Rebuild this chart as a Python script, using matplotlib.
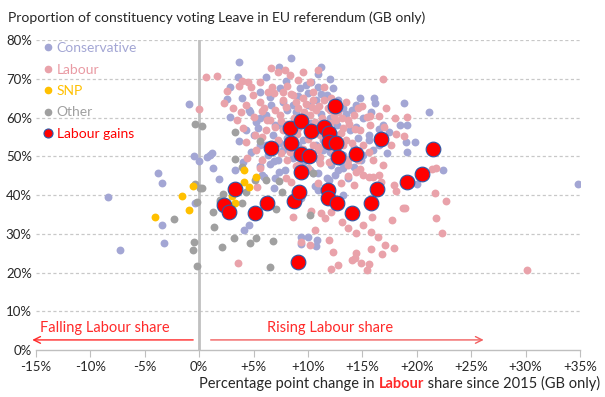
import matplotlib
matplotlib.use("Agg")
import matplotlib.pyplot as plt
from matplotlib.offsetbox import TextArea, HPacker, AnchoredOffsetbox
from matplotlib.lines import Line2D

# ---- data (x: pp change in Labour share, y: Leave %) ----
con_x = [1.0, 1.2, 0.0, 1.3, -3.8, -3.4, 1.8, -8.4, -3.4, -3.2, -7.3, -0.4,
         3.3, 4.0, 5.6, 6.0, 6.9, 7.3, 6.9, 4.6, 4.1, -0.5,
         9.4, 10.5, 10.9, 12.1, 12.5, 11.7, 10.6, 9.4, 10.0, 10.8, 10.7, 9.4,
         22.4, 20.0, 34.8, 18.8, 21.1, 19.1, 19.0, 19.8, 19.1,
         11.2, 10.9, 10.3, 9.3, 11.2, 14.4, 14.0, 16.1, 16.2, 16.5, 14.4, 15.6, 18.5, 17.3, 16.0, 14.2, 10.9, 10.0,
         3.7, 8.4, 7.3, 6.1, 3.6, 2.8, 2.6, 2.8, 3.9, 5.6, 6.5, 7.4, 7.7, 4.7, 6.1, 4.3, 5.0, 3.7, 5.6, 0.7, 7.0, 5.2, 6.6, 8.6,
         -0.9,
         8.9, 10.0, 10.7, 11.7, 12.3, 12.8, 13.2, 12.0, 10.9, 10.0, 9.5, 8.9, 8.1, 7.4, 6.8, 6.1, 7.7, 8.6, 10.7, 11.4,
         12.3, 13.2, 14.2, 15.1, 14.6, 13.9, 15.6, 16.5, 16.9, 15.1, 12.6, 11.4, 10.5, 9.5, 8.6, 7.2, 6.3, 5.4, 4.6, 5.6,
         8.1, 9.1, 12.8, 13.7, 11.9, 10.9, 13.2, 10.2, 7.9, 7.0, 5.8, 17.4, 9.1, 14.2, 14.9, 13.2,
         9.6, 10.3, 11.2, 12.7, 13.5, 11.0, 8.5, 9.0, 12.0, 13.0, 11.0, 7.4, 6.5, 4.8, 15.8, 14.8, 12.0, 9.8, 8.0]
con_y = [50.3, 50.8, 48.8, 47.0, 45.7, 43.1, 44.1, 39.5, 32.3, 27.6, 25.8, 37.9,
         46.5, 48.5, 47.5, 44.6, 41.8, 45.9, 48.8, 32.3, 31.0, 50.1,
         39.2, 45.7, 45.7, 47.7, 45.2, 44.4, 42.3, 29.2, 29.2, 28.4, 26.8, 27.4,
         46.5, 42.8, 42.8, 63.7, 61.4, 58.1, 53.7, 53.7, 51.1,
         73.0, 71.2, 69.2, 67.6, 66.1, 63.2, 61.9, 65.0, 63.7, 57.0, 57.5, 55.5, 58.1, 50.8, 51.6, 52.1, 67.9, 66.3,
         74.3, 75.4, 73.0, 70.5, 70.5, 67.9, 64.8, 60.1, 65.0, 66.6, 65.3, 67.6, 64.0, 61.4, 60.6, 56.8, 55.5, 53.9, 52.9, 49.8, 58.1, 58.8, 63.2, 63.2,
         63.5,
         61.4, 63.2, 64.5, 65.8, 67.6, 64.5, 62.5, 59.9, 58.1, 56.3, 54.2, 56.3, 61.9, 58.1, 55.5, 52.9, 51.6, 51.6, 52.9, 51.6,
         49.0, 50.3, 51.6, 50.3, 54.7, 56.8, 54.2, 52.9, 58.1, 59.9, 55.5, 54.2, 49.5, 48.5, 49.5, 49.0, 50.3, 57.3, 61.9, 59.9,
         54.7, 52.9, 46.5, 44.4, 43.9, 41.3, 40.0, 46.5, 46.5, 44.4, 45.2, 56.3, 65.5, 47.2, 49.0, 47.0,
         60.0, 58.5, 61.0, 58.0, 60.8, 57.0, 57.8, 50.5, 51.0, 48.5, 49.0, 53.5, 48.0, 51.0, 61.5, 65.0, 70.0, 68.5, 69.5]

lab_x = [5.6, 5.3, 8.0, 8.4, 8.9, 8.6, 3.6,
         11.1, 11.1, 11.9, 13.7, 14.4, 14.8, 13.7, 15.6, 16.0, 16.7, 14.2, 13.0, 10.9, 18.1, 19.0, 18.7, 17.7, 15.9,
         15.1, 14.4, 13.1, 12.1, 11.6, 11.2, 10.3, 10.6, 11.9, 10.2, 12.3, 13.7, 14.4, 15.8, 16.4, 17.1, 17.9, 15.8,
         16.8, 14.4, 14.3, 14.9, 15.6, 15.4, 12.8, 12.1, 9.4, 14.0,
         21.4, 21.8, 21.7, 22.7, 18.9, 21.8, 22.3, 30.1, 19.1, 18.8,
         9.5, 10.9, 10.2, 12.1, 16.9, 15.4, 15.7, 18.1, 12.6, 13.1, 15.6,
         0.6, 1.6, 0.0, 2.6, 2.3, 3.7, 3.9, 4.5, 4.8, 5.6, 5.8, 6.6, 7.2, 7.9, 8.3, 8.1, 6.7, 6.9, 8.4, 6.2, 5.0, 3.8,
         5.1, 4.3, 5.8, 7.5, 9.3, 8.9,
         9.1, 9.6, 10.2, 10.7, 11.3, 8.7, 8.1, 7.7, 9.1, 9.8, 10.6, 11.1, 8.7, 8.0, 7.2, 10.5, 13.2, 13.7, 14.2, 13.5,
         14.8, 15.1, 12.8, 12.0, 11.5, 10.5, 9.5, 8.6, 7.7, 7.0, 6.5, 7.4, 6.1, 8.1, 9.1, 10.0, 10.9, 12.3, 13.7, 14.6,
         16.0, 16.9, 16.5, 15.1, 13.2, 9.1, 7.7, 6.3, 5.6, 4.9, 4.3, 3.5, 3.1, 4.0, 5.2, 4.4, 5.8, 6.8, 14.6, 15.7,
         17.2, 17.6, 17.9,
         9.8, 10.4, 11.0, 11.8, 12.4, 13.8, 14.3, 8.0, 7.5, 9.0, 10.0, 11.8, 12.0, 13.0, 14.0, 11.0, 9.5, 8.3,
         7.0, 6.0, 10.5, 11.5, 13.5, 15.0, 16.5, 17.0, 18.0]
lab_y = [47.0, 42.1, 44.4, 43.4, 47.5, 34.3, 22.5,
         49.8, 48.3, 48.5, 49.0, 45.9, 46.7, 44.9, 44.6, 44.6, 43.4, 42.6, 43.1, 43.1, 41.0, 43.6, 36.6, 33.5, 34.3,
         32.3, 35.6, 33.0, 35.6, 34.1, 35.4, 35.9, 31.0, 28.4, 27.1, 25.3, 31.5, 30.2, 30.5, 29.2, 27.1, 26.3, 26.1,
         24.8, 25.0, 23.7, 22.5, 22.2, 20.6, 21.9, 20.9, 27.9, 23.2,
         46.7, 47.0, 40.5, 38.5, 36.6, 34.1, 30.2, 20.6, 60.1, 55.2,
         71.7, 72.3, 69.2, 65.0, 69.9, 60.1, 60.4, 55.7, 59.4, 59.9, 51.1,
         70.5, 70.7, 62.2, 66.8, 63.7, 68.1, 69.4, 69.2, 67.9, 64.0, 61.7, 72.8, 71.7, 72.3, 71.0, 68.1, 67.9, 66.3, 66.1, 59.4, 60.1, 61.4,
         55.5, 53.7, 55.0, 50.8, 59.9, 64.0,
         62.5, 61.4, 60.6, 61.9, 59.9, 59.9, 58.3, 56.8, 57.3, 58.1, 58.8, 55.5, 54.2, 52.9, 54.2, 52.9, 57.3, 59.4, 60.6, 54.2,
         56.8, 52.9, 61.4, 61.9, 64.5, 64.5, 65.0, 65.8, 64.5, 61.9, 59.4, 60.6, 56.8, 49.0, 47.7, 47.0, 51.6, 51.6, 47.7, 49.0,
         49.0, 47.7, 45.2, 45.2, 52.9, 69.7, 66.6, 66.6, 69.2, 65.8, 63.2, 59.4, 62.5, 57.3, 51.6, 49.5, 49.0, 51.6, 62.5, 58.1,
         62.5, 52.9, 42.6,
         63.5, 62.8, 63.0, 62.5, 60.5, 58.2, 57.0, 62.8, 59.0, 55.8, 54.5, 55.0, 58.5, 56.0, 53.5, 52.5, 52.0, 51.0,
         57.5, 62.5, 66.5, 68.0, 64.0, 63.0, 60.5, 57.5, 60.0]

snp_x = [-0.6, -1.6, -0.9, -4.1, 4.1, 4.1, 4.6, 5.2, 3.0, 3.3]
snp_y = [42.3, 39.7, 36.1, 34.3, 46.5, 43.4, 42.1, 44.6, 39.7, 37.9]

oth_x = [-0.4, 0.1, 0.3, -0.2, 2.2, 1.9, 1.3, -2.3, 1.4, -0.5, -0.6, -0.2, 2.1, 3.3, 3.9, 4.3, 5.1, 6.1,
         7.3, 7.6, 1.9, 3.9, 7.1, 3.2, 4.7, 5.2, 6.8, 6.5, -0.4, 0.3, 3.3, 5.6, 10.5, 10.2]
oth_y = [42.8, 41.8, 41.8, 38.2, 40.3, 38.2, 35.6, 33.8, 31.7, 27.9, 25.8, 21.7, 26.6, 49.3, 47.2, 40.8, 43.9, 43.9,
         43.6, 40.8, 38.7, 37.9, 36.4, 28.9, 27.6, 28.9, 28.1, 21.4, 58.3, 57.8, 56.3, 53.9, 45.7, 34.8]

gain_x = [6.6, 8.4, 8.3, 9.4, 10.3, 11.5, 11.9, 11.9, 12.5, 12.6, 9.4, 10.1, 12.8, 14.4, 16.7, 21.5,
          9.4, 3.3, 2.3, 2.7, 5.1, 6.2, 8.7, 9.2, 9.1, 11.8, 11.8, 12.7, 14.0, 15.8, 16.3, 19.1, 20.5]
gain_y = [52.1, 53.4, 57.3, 59.1, 56.5, 57.5, 56.0, 53.7, 63.0, 53.4, 50.6, 50.1, 49.8, 50.6, 54.5, 51.9,
          45.9, 41.5, 37.4, 35.6, 35.4, 37.9, 38.5, 40.8, 22.7, 41.3, 39.2, 37.9, 35.4, 37.9, 41.5, 43.4, 45.4]

x_ticks = [-15, -10, -5, 0, 5, 10, 15, 20, 25, 30, 35]
x_labels = ["-15%", "-10%", "-5%", "0%", "+5%", "+10%", "+15%", "+20%", "+25%", "+30%", "+35%"]
y_ticks = [0, 10, 20, 30, 40, 50, 60, 70, 80]
y_labels = ["0%", "10%", "20%", "30%", "40%", "50%", "60%", "70%", "80%"]

C_CON = "#a3a6d4"
C_LAB = "#e9a2aa"
C_SNP = "#ffc000"
C_OTH = "#a0a0a0"
C_GAIN = "#ff0000"
C_TXT = "#ff2a2a"

plt.rcParams['font.family'] = ['Lato', 'DejaVu Sans']

fig = plt.figure(figsize=(6.05, 3.97), dpi=100)
ax = fig.add_axes([0.0595, 0.1184, 0.8992, 0.7808])
ax.set_xlim(-15, 35)
ax.set_ylim(0, 80)

for y in y_ticks[1:]:
    ax.axhline(y, color="#c8c8c8", lw=0.9, ls=(0, (2.5, 2)), zorder=0)
ax.axvline(0, color="#c0c0c0", lw=2, zorder=1)

ms = 32
ax.scatter(con_x, con_y, s=ms, color=C_CON, linewidths=0, zorder=2)
ax.scatter(lab_x, lab_y, s=ms, color=C_LAB, linewidths=0, zorder=2)
ax.scatter(oth_x, oth_y, s=ms, color=C_OTH, linewidths=0, zorder=3)
ax.scatter(snp_x, snp_y, s=ms, color=C_SNP, linewidths=0, zorder=3)
ax.scatter(gain_x, gain_y, s=112, color=C_GAIN, edgecolors="#2a58a8", linewidths=0.8, zorder=4)

for s in ["top", "right", "left"]:
    ax.spines[s].set_visible(False)
ax.spines["bottom"].set_color("#bfbfbf")
ax.spines["bottom"].set_linewidth(1.0)
ax.set_xticks(x_ticks)
ax.set_xticklabels(x_labels)
ax.set_yticks(y_ticks)
ax.set_yticklabels(y_labels)
ax.tick_params(axis="x", direction="out", length=5, color="#bfbfbf", labelsize=9.5, pad=3, labelcolor="#262626")
ax.tick_params(axis="y", length=0, labelsize=9.5, pad=3, labelcolor="#262626")

# arrows and annotations
ax.annotate("", xy=(-15.6, 2.6), xytext=(-0.3, 2.6),
            arrowprops=dict(arrowstyle="->", color=C_TXT, lw=1.0, mutation_scale=12), annotation_clip=False)
ax.annotate("", xy=(26.4, 2.6), xytext=(0.8, 2.6),
            arrowprops=dict(arrowstyle="->", color="#f26060", lw=1.0, mutation_scale=12))
ax.text(-8.7, 5.6, "Falling Labour share", color=C_TXT, fontsize=10.5, ha="center", va="center")
ax.text(12.0, 5.6, "Rising Labour share", color=C_TXT, fontsize=10.5, ha="center", va="center")

# legend
handles = [
    Line2D([], [], ls="", marker="o", ms=4.5, mfc=C_CON, mec=C_CON),
    Line2D([], [], ls="", marker="o", ms=4.5, mfc=C_LAB, mec=C_LAB),
    Line2D([], [], ls="", marker="o", ms=4.5, mfc=C_SNP, mec=C_SNP),
    Line2D([], [], ls="", marker="o", ms=4.5, mfc=C_OTH, mec=C_OTH),
    Line2D([], [], ls="", marker="o", ms=6.5, mfc=C_GAIN, mec="#2a58a8", mew=0.8),
]
labels = ["Conservative", "Labour", "SNP", "Other", "Labour gains"]
leg = ax.legend(handles, labels, loc="upper left", bbox_to_anchor=(0.0, 1.02), frameon=False,
                handlelength=0.6, handletextpad=0.3, labelspacing=0.68, fontsize=10, borderaxespad=0.2)
for t, c in zip(leg.get_texts(), [C_CON, "#e99aa3", C_SNP, C_OTH, C_GAIN]):
    t.set_color(c)

fig.text(0.013, 0.97, "Proportion of constituency voting Leave in EU referendum (GB only)",
         fontsize=10, color="#262626", ha="left", va="top")

parts = [TextArea("Percentage point change in ", textprops=dict(color="#262626", fontsize=10.5)),
         TextArea("Labour", textprops=dict(color=C_TXT, fontsize=10.5, fontweight="bold")),
         TextArea(" share since 2015 (GB only)", textprops=dict(color="#262626", fontsize=10.5))]
box = HPacker(children=parts, align="baseline", pad=0, sep=0)
anch = AnchoredOffsetbox(loc="lower right", child=box, pad=0, borderpad=0, frameon=False,
                         bbox_to_anchor=(0.992, 0.015), bbox_transform=fig.transFigure)
fig.add_artist(anch)

fig.savefig("out.png", dpi=100)
